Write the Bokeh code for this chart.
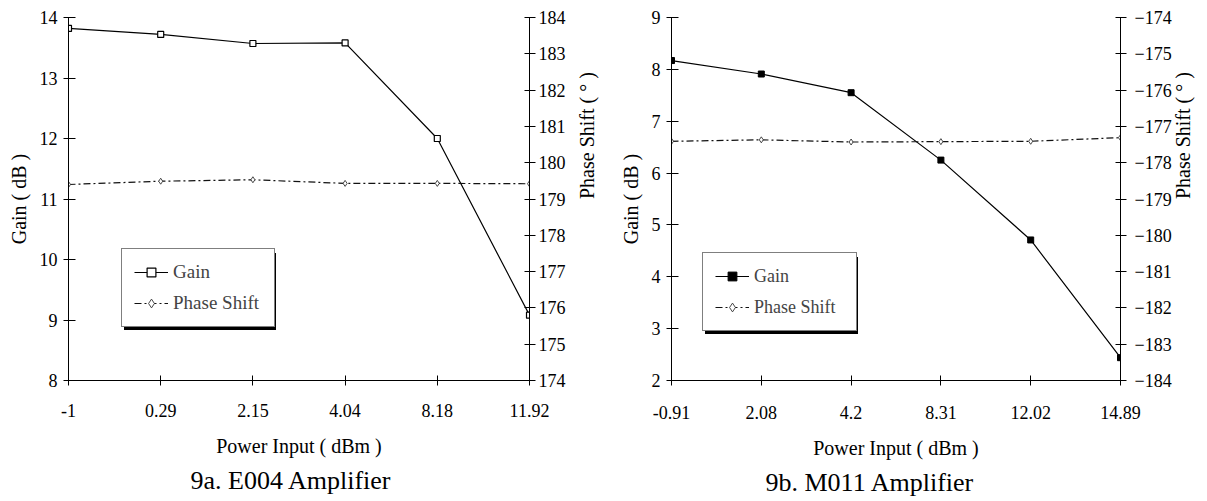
import math
from bokeh.plotting import figure
from bokeh.models import (Range1d, LinearAxis, FixedTicker, Legend, LegendItem,
                          Title, BoxAnnotation)
from bokeh.layouts import row
from bokeh.embed import file_html
from bokeh.resources import INLINE

# ---------------- data ----------------
power_a = ["-1", "0.29", "2.15", "4.04", "8.18", "11.92"]
gain_a = [13.82, 13.72, 13.57, 13.58, 12.0, 9.08]
phase_a = [179.40, 179.49, 179.53, 179.43, 179.43, 179.42]
gain_ticks_a = [8, 9, 10, 11, 12, 13, 14]
phase_ticks_a = [174, 175, 176, 177, 178, 179, 180, 181, 182, 183, 184]

power_b = ["-0.91", "2.08", "4.2", "8.31", "12.02", "14.89"]
gain_b = [8.17, 7.91, 7.55, 6.25, 4.71, 2.44]
phase_b = [-177.41, -177.37, -177.43, -177.42, -177.41, -177.31]
gain_ticks_b = [2, 3, 4, 5, 6, 7, 8, 9]
phase_ticks_b = [-184, -183, -182, -181, -180, -179, -178, -177, -176, -175, -174]

titles = ["9a. E004 Amplifier", "9b. M011 Amplifier"]

FONT = "Liberation Serif"
H = 501
BT, BB = 17, 121
FB = H - BB


def make_chart(labels, gain, phase, gticks, pticks, title, width, bl, br,
               leg_xy, leg_font, leg_label_w, filled, rt_standoff, rl_standoff,
               xt_standoff, xl_standoff, title_off, title_standoff):
    idx = list(range(len(labels)))
    p = figure(width=width, height=H, output_backend="svg", toolbar_location=None,
               x_range=Range1d(idx[0], idx[-1]),
               y_range=Range1d(min(gticks), max(gticks)),
               min_border_left=bl, min_border_right=br,
               min_border_top=BT, min_border_bottom=BB)
    p.extra_y_ranges = {"phase": Range1d(min(pticks), max(pticks))}
    p.grid.visible = False
    p.outline_line_color = None
    p.background_fill_color = "white"
    p.border_fill_color = "white"

    def style_axis(ax, tin, tout, lstand, astand):
        ax.axis_line_color = "black"
        ax.axis_line_width = 1
        ax.major_tick_line_color = "black"
        ax.major_tick_in = tin
        ax.major_tick_out = tout
        ax.minor_tick_line_color = None
        ax.major_label_text_font = FONT
        ax.major_label_text_font_size = "18px"
        ax.major_label_text_color = "black"
        ax.major_label_standoff = lstand
        ax.axis_label_text_font = FONT
        ax.axis_label_text_font_size = "20px"
        ax.axis_label_text_font_style = "normal"
        ax.axis_label_text_color = "black"
        ax.axis_label_standoff = astand

    xa = p.xaxis[0]
    xa.ticker = FixedTicker(ticks=idx)
    xa.major_label_overrides = {i: s for i, s in zip(idx, labels)}
    xa.axis_label = "Power Input ( dBm )"
    style_axis(xa, 5, 5, xt_standoff, xl_standoff)

    ya = p.yaxis[0]
    ya.ticker = FixedTicker(ticks=gticks)
    ya.axis_label = "Gain ( dB )"
    style_axis(ya, 7, 5, 6, 7)

    ra = LinearAxis(y_range_name="phase", ticker=FixedTicker(ticks=pticks),
                    axis_label="Phase Shift ( \u00b0 )")
    style_axis(ra, 5, 6, rt_standoff, rl_standoff)
    ra.axis_label_orientation = math.pi / 2
    p.add_layout(ra, "right")

    # data
    gl = p.line(idx, gain, line_color="black", line_width=1.2)
    if filled:
        gm = p.scatter(idx, gain, marker="square", size=6, fill_color="black",
                       line_color="black", line_width=1)
    else:
        gm = p.scatter(idx, gain, marker="square", size=6, fill_color="white",
                       line_color="black", line_width=1.2)
    pl = p.line(idx, phase, y_range_name="phase", line_color="#111111",
                line_width=1.2, line_dash="7 3 2 3")
    pm = p.scatter(idx, phase, y_range_name="phase", marker="diamond", size=6,
                   fill_color="white", line_color="#333333", line_width=0.9)

    # legend with a drop shadow
    pad, gw, gh, sp, lst = 12, 34, 22, 9, 5
    lw = 2 * pad + gw + lst + leg_label_w
    lh = 2 * pad + 2 * gh + sp
    left = bl + leg_xy[0]
    bottom = FB - leg_xy[1]
    shadow = BoxAnnotation(left=left + 2.5, right=left + lw + 2.5,
                           top=bottom - lh + 2.5, bottom=bottom + 2.5,
                           left_units="canvas", right_units="canvas",
                           top_units="canvas", bottom_units="canvas",
                           fill_color="black", fill_alpha=1.0,
                           line_color=None, level="annotation")
    p.add_layout(shadow)

    legend = Legend(items=[LegendItem(label="Gain", renderers=[gl, gm]),
                           LegendItem(label="Phase Shift", renderers=[pl, pm])],
                    location=leg_xy, margin=0, padding=pad, spacing=sp,
                    glyph_width=gw, glyph_height=gh, label_height=gh,
                    label_width=leg_label_w, label_standoff=lst,
                    label_text_font=FONT, label_text_font_size=leg_font,
                    border_line_color="black", border_line_width=1,
                    background_fill_color="white", background_fill_alpha=1.0)
    p.add_layout(legend)

    t = Title(text=title, align="left", offset=title_off, text_font=FONT,
              text_font_size="26px", text_font_style="normal",
              text_color="black", standoff=title_standoff)
    p.add_layout(t, "below")
    return p


p1 = make_chart(power_a, gain_a, phase_a, gain_ticks_a, phase_ticks_a, titles[0],
                615, 68, 86, (53, 53), "19px", 89, False, 3, 18, 18, 15, 122, 9)
p2 = make_chart(power_b, gain_b, phase_b, gain_ticks_b, phase_ticks_b, titles[1],
                592, 56, 87, (31, 49), "18px", 90, True, 8, 8, 20, 15, 94, 9)

layout = row(p1, p2)
open("out.html", "w").write(file_html(layout, INLINE))
